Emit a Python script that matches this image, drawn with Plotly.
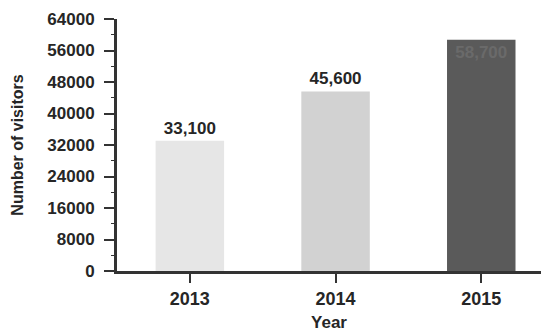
import plotly.graph_objects as go

years = ["2013", "2014", "2015"]
visitors = [33100, 45600, 58700]
value_labels = ["33,100", "45,600", "58,700"]
bar_colors = ["#e6e6e6", "#d2d2d2", "#5a5a5a"]
label_colors = ["#262626", "#262626", "#6a6a6a"]
y_ticks = [0, 8000, 16000, 24000, 32000, 40000, 48000, 56000, 64000]

font_family = "Liberation Sans, Arial, sans-serif"
ink = "#262626"

fig = go.Figure()
fig.add_trace(go.Bar(
    x=[0, 1, 2],
    y=visitors,
    width=0.47,
    marker=dict(color=bar_colors, line=dict(width=0)),
    text=value_labels,
    texttemplate="<b>%{text}</b>",
    textposition=["outside", "outside", "inside"],
    insidetextanchor="end",
    textangle=0,
    textfont=dict(family=font_family, size=17, color=label_colors),
    cliponaxis=False,
))

fig.update_layout(
    width=541, height=333,
    margin=dict(l=117, r=0, t=19, b=62),
    paper_bgcolor="white", plot_bgcolor="white",
    showlegend=False,
    font=dict(family=font_family, color=ink),
    uniformtext=dict(minsize=8, mode="show"),
)
fig.update_xaxes(
    range=[-0.5, 2.41],
    tickmode="array", tickvals=[0, 1, 2], ticktext=[f"<b>{y}</b>" for y in years],
    ticks="outside", ticklen=9, tickwidth=2, tickcolor="#333",
    showline=True, linecolor="#333", linewidth=3,
    showgrid=False, zeroline=False,
    tickfont=dict(family=font_family, size=18, color=ink),
    title=dict(text="<b>Year</b>", font=dict(size=17, color=ink), standoff=9),
)
fig.update_yaxes(
    range=[0, 64000],
    tickmode="array", tickvals=y_ticks, ticktext=[f"<b>{v}</b>" for v in y_ticks],
    ticks="outside", ticklen=10, tickwidth=2, tickcolor="#333",
    ticklabelstandoff=6,
    minor=dict(ticks="outside", ticklen=3, tickwidth=1, tickcolor="#333", dtick=4000),
    showline=True, linecolor="#333", linewidth=3,
    showgrid=False, zeroline=False,
    tickfont=dict(family=font_family, size=17, color=ink),
    title=dict(text="<b>Number of visitors</b>", font=dict(size=16, color=ink), standoff=20),
)

fig.write_html("out.html")
